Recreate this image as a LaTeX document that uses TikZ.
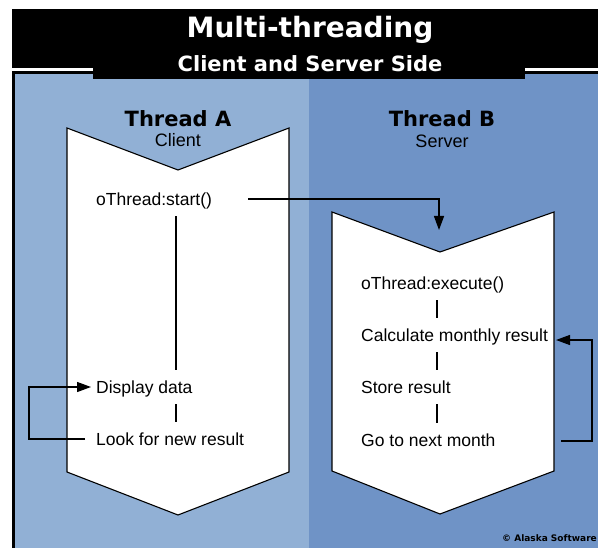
\documentclass[tikz,border=0pt]{standalone}
\usepackage{fontspec}
\setmainfont{Liberation Sans}
\newfontfamily\headfont{DejaVu Sans}
\usetikzlibrary{arrows.meta}

\definecolor{paneA}{RGB}{145,176,213}
\definecolor{paneB}{RGB}{111,147,198}

\tikzset{
  chevron/.style={fill=white, draw=black, line width=1.1bp, line join=miter},
  steptext/.style={anchor=west, inner xsep=5bp, inner ysep=8.5bp,
    text height=15bp, text depth=2bp,
    font=\fontsize{17.5bp}{20bp}\selectfont},
  heading/.style={anchor=base, inner sep=0pt,
    font=\headfont\bfseries\fontsize{21bp}{24bp}\selectfont},
  subhead/.style={anchor=base, inner sep=0pt,
    font=\fontsize{18bp}{20bp}\selectfont},
  banner/.style={anchor=base, inner sep=0pt, text=white},
  link/.style={line width=1.3bp},
  flow/.style={link, -{Triangle[length=14bp,width=10bp]}},
}

\begin{document}
\begin{tikzpicture}[x=1bp, y=-1bp]
  \useasboundingbox (0,0) rectangle (598,548);

  % header band with its lower tab
  \fill[black] (12,9) rectangle (598,68);
  \fill[black] (93,60) rectangle (525,79);
  % frame: thin top edge and left edge of the panels
  \fill[black] (12,71) rectangle (93,74);
  \fill[black] (525,71) rectangle (598,74);
  \fill[black] (12,71) rectangle (15,548);

  % the two thread panels
  \fill[paneA] (15,79) rectangle (309,548);
  \fill[paneA] (15,74) rectangle (93,79);
  \fill[paneB] (309,79) rectangle (598,548);
  \fill[paneB] (525,74) rectangle (598,79);

  % titles
  \node[banner, font=\headfont\bfseries\fontsize{28bp}{30bp}\selectfont]
    (title) at (310,37.5) {Multi-threading};
  \node[banner, font=\headfont\bfseries\fontsize{21bp}{24bp}\selectfont]
    (subtitle) at (310,71.5) {Client and Server Side};

  % chevron-shaped thread bodies
  \draw[chevron] (67,128) -- (178,170) -- (289,128) -- (289,472)
    -- (178,515) -- (67,472) -- cycle;
  \draw[chevron] (332,212) -- (440,252) -- (554,212) -- (554,471)
    -- (440,514) -- (332,471) -- cycle;

  % thread headings
  \node[heading] (ta) at (178,127) {Thread A};
  \node[subhead] (tac) at (178,147) {Client};
  \node[heading] (tb) at (442,127) {Thread B};
  \node[subhead] (tbs) at (442,148) {Server};

  % client steps
  \node[steptext] (start) at (91,199) {oThread:start()};
  \node[steptext] (disp)  at (91,387) {Display data};
  \node[steptext] (look)  at (91,439) {Look for new result};

  % server steps
  \node[steptext] (exec)  at (356,283) {oThread:execute()};
  \node[steptext] (calc)  at (356,335) {Calculate monthly result};
  \node[steptext] (store) at (356,387) {Store result};
  \node[steptext] (next)  at (356,440) {Go to next month};

  % guide coordinates for the connectors
  \coordinate (axA) at (176,0);
  \coordinate (axB) at (437,0);
  \coordinate (sendx) at (248,0);
  \coordinate (bin) at (439,230);
  \coordinate (loopL) at (29,387);
  \coordinate (rOut) at (561,441);
  \coordinate (loopR) at (592,340);
  \coordinate (rIn) at (556,340);

  % sequence lines
  \draw[link] (start.south -| axA) -- (disp.north -| axA);
  \draw[link] (disp.south -| axA) -- (look.north -| axA);
  \draw[link] (exec.south -| axB) -- (calc.north -| axB);
  \draw[link] (calc.south -| axB) -- (store.north -| axB);
  \draw[link] (store.south -| axB) -- (next.north -| axB);

  % start of thread B
  \draw[flow] (start.east -| sendx) -| (bin);

  % polling loop of the client
  \draw[flow] ([xshift=-6bp]look.west) -| (loopL) -- (disp.west);

  % monthly loop of the server
  \draw[flow] (rOut) -| (loopR) -- (rIn);

  % credit
  \node[anchor=base east, inner sep=0pt,
    font=\headfont\bfseries\fontsize{9bp}{10bp}\selectfont]
    (credit) at (597,541) {© Alaska Software};
\end{tikzpicture}
\end{document}
